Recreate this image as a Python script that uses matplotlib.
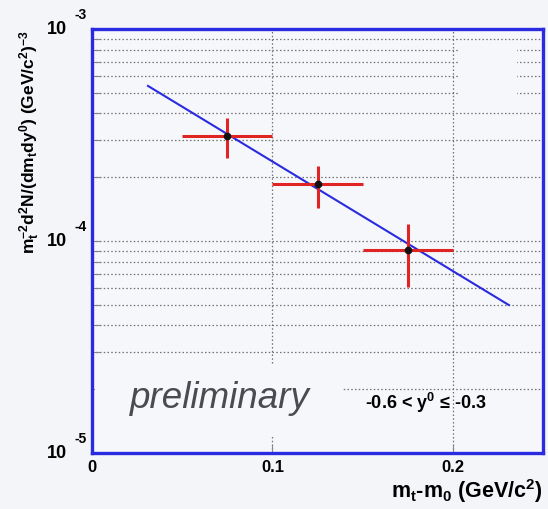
import matplotlib
matplotlib.use('Agg')
import matplotlib.pyplot as plt
import matplotlib.transforms as mtransforms
from matplotlib.patches import Rectangle

plt.rcParams['font.family'] = ['Liberation Sans', 'DejaVu Sans']
plt.rcParams['mathtext.fontset'] = 'custom'
plt.rcParams['mathtext.rm'] = 'Liberation Sans'
plt.rcParams['mathtext.bf'] = 'Liberation Sans:bold'
plt.rcParams['mathtext.it'] = 'Liberation Sans:italic'

# data points (mt - m0, yield) with errors
mt = [0.075, 0.125, 0.175]
mt_err = [0.025, 0.025, 0.025]
yld = [3.13e-4, 1.86e-4, 9.07e-5]
yld_lo = [0.67e-4, 0.43e-4, 3.0e-5]
yld_hi = [0.67e-4, 0.40e-4, 2.9e-5]

# exponential fit, drawn between its end points
fit_x = [0.031, 0.231]
fit_y = [5.39e-4, 4.99e-5]

y_decades = [1e-5, 1e-4, 1e-3]
y_exps = ['-5', '-4', '-3']
x_ticks = [0, 0.1, 0.2]
x_tick_labels = ['0', '0.1', '0.2']

bg = '#f4f5f9'
blue = '#2a2ae0'
red = '#e02424'

fig = plt.figure(figsize=(5.48, 5.09), dpi=100, facecolor=bg)
ax = fig.add_axes([0.168, 0.110, 0.823, 0.833], facecolor='#f6f7fa')

ax.set_yscale('log')
ax.set_xlim(0, 0.25)
ax.set_ylim(1e-5, 1e-3)

#grid: vertical at major x, horizontal at every minor y
ax.set_xticks(x_ticks)
ax.set_xticklabels(x_tick_labels, fontsize=12, fontweight='bold')
ax.xaxis.grid(True, which='major', color='#707070', linestyle=(0, (1.2, 1.8)), linewidth=0.9)
ax.yaxis.grid(True, which='both', color='#707070', linestyle=(0, (1.2, 1.8)), linewidth=0.9)
ax.set_axisbelow(True)
ax.tick_params(axis='x', direction='in', length=6, width=0.8, color='#888888', pad=5)
ax.tick_params(axis='y', which='both', direction='in', length=6, width=0.8, color='#888888')
ax.set_yticklabels([], minor=True)
ax.set_yticklabels([])

for s in ax.spines.values():
    s.set_color(blue)
    s.set_linewidth(2.4)

# blank boxes that hide the grid
ax.add_patch(Rectangle((0.007, 0.038), 0.55, 0.17, transform=ax.transAxes,
                       facecolor='#f6f7fa', edgecolor='none', zorder=1.5))
ax.add_patch(Rectangle((0.812, 0.833), 0.13, 0.128, transform=ax.transAxes,
                       facecolor='#f6f7fa', edgecolor='none', zorder=1.5))

ax.plot(fit_x, fit_y, color=blue, linewidth=1.5, zorder=3)
ax.errorbar(mt, yld, xerr=mt_err, yerr=[yld_lo, yld_hi], fmt='o', color='#111111',
            markersize=4.5, ecolor=red, elinewidth=2.2, capsize=0, zorder=4)

# ROOT style decade labels
trans = mtransforms.blended_transform_factory(fig.transFigure, ax.transData)
for v, e in zip(y_decades, y_exps):
    ax.text(0.103, v, '10', transform=trans, fontsize=13, fontweight='bold',
            ha='center', va='center')
    ax.text(0.147, v * 1.08, e, transform=trans, fontsize=10, fontweight='bold',
            ha='center', va='bottom')

ax.text(0.083, 0.128, 'preliminary', transform=ax.transAxes, fontsize=26.5,
        style='italic', color='#4a4a50', va='center', ha='left', zorder=5)
ax.text(0.605, 0.118, r'-0.6 < y$^\mathbf{0}$ ≤ -0.3', transform=ax.transAxes,
        fontsize=13, fontweight='bold', va='center', ha='left', zorder=5)

fig.text(0.991, 0.036, r'm$_\mathbf{t}$-m$_\mathbf{0}$ (GeV/c$^\mathbf{2}$)', fontsize=15.5,
         fontweight='bold', ha='right', va='center')
fig.text(0.055, 0.72, r'$\mathbf{m_t^{-2}d^2N/(dm_tdy^0)\ (GeV/c^2)^{-3}}$',
         fontsize=12.5, rotation=90, ha='center', va='center')

fig.savefig('out.png', dpi=100, facecolor=bg)
